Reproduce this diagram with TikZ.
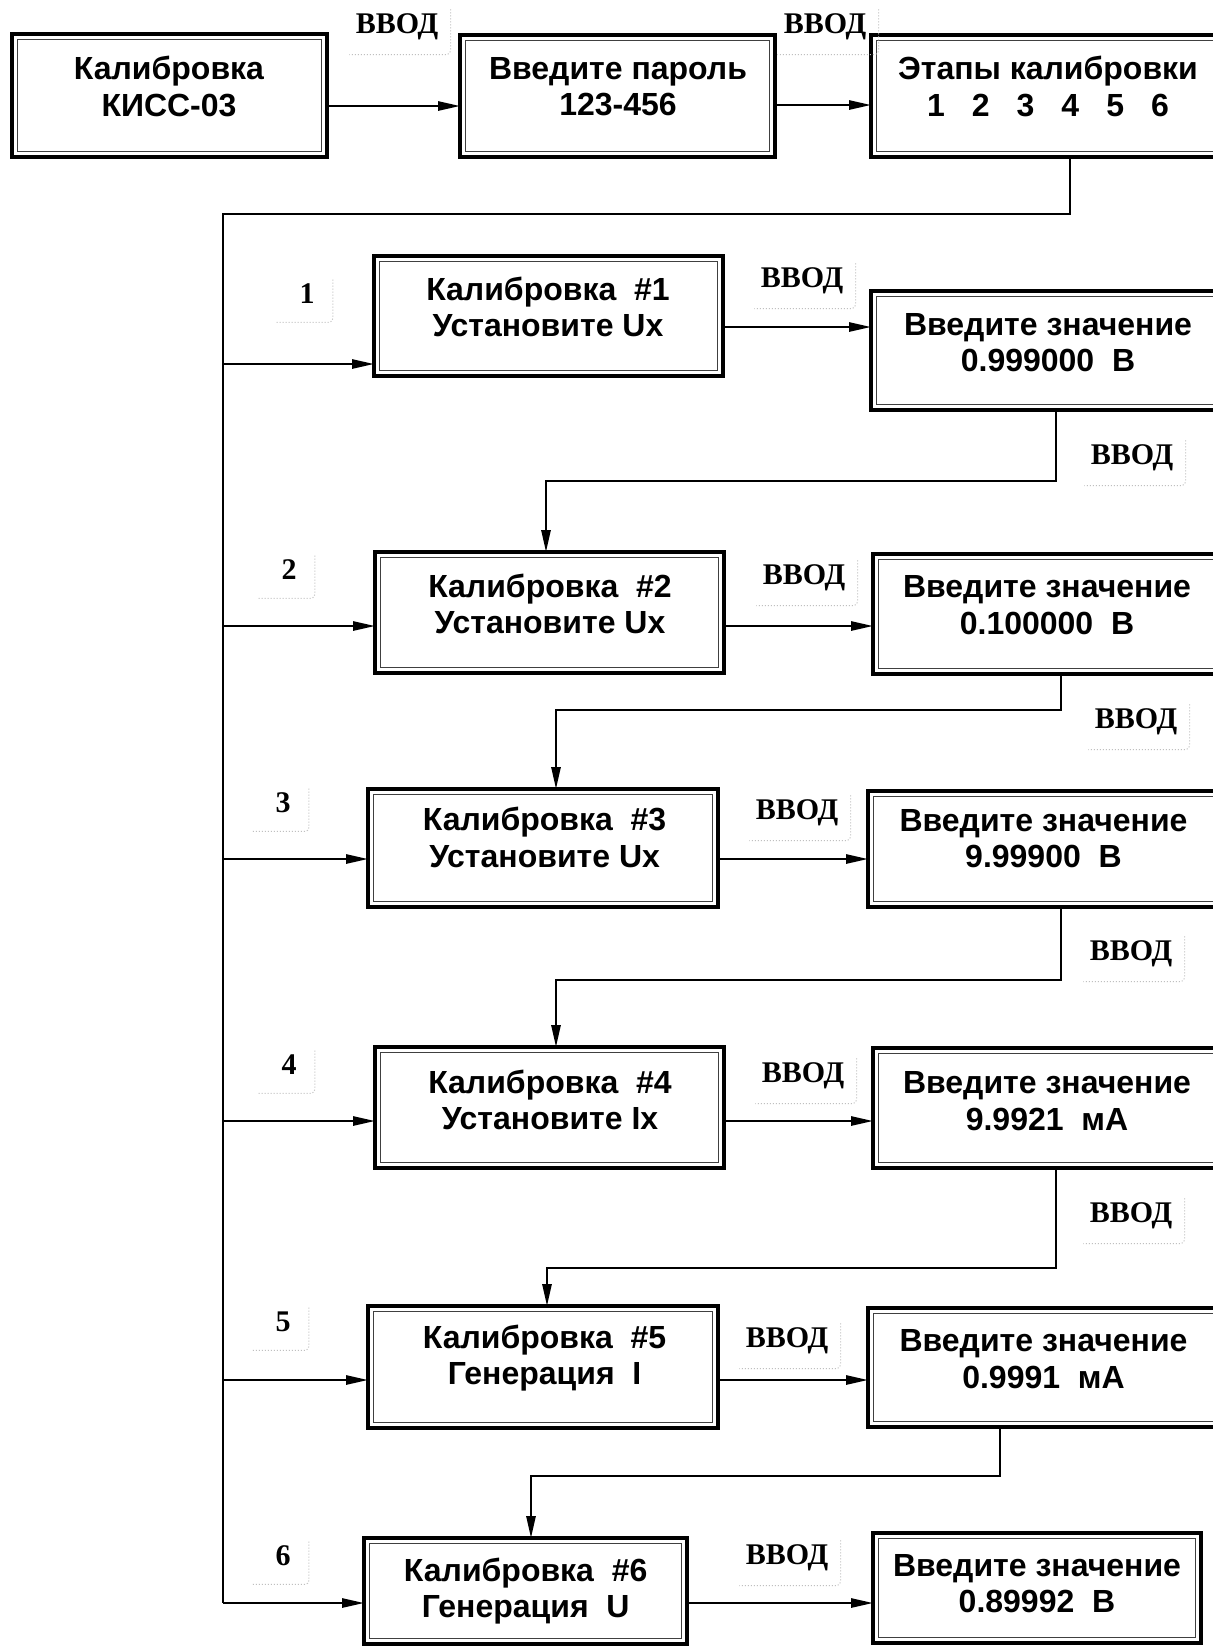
\documentclass[tikz,border=0pt]{standalone}
\usepackage{fontspec}
\setmainfont{Liberation Serif}
\newfontfamily\boxfam{Liberation Sans}
\usetikzlibrary{arrows.meta}
\tikzset{
  box/.style={draw, line width=2.2pt, inner sep=0pt, outer sep=0pt, anchor=north west},
  innerln/.style={line width=0.5pt, black!75},
  txt/.style={font=\boxfam\bfseries\fontsize{16}{18.3}\selectfont, align=center, inner sep=0pt},
  lab/.style={font=\bfseries\fontsize{15}{17}\selectfont, inner sep=0pt},
  mk/.style={line width=0.5pt, gray!50, densely dotted, rounded corners=2pt},
  arr/.style={line width=1.1pt, -{Triangle[length=11pt,width=4.6pt]}},
  ln/.style={line width=1.1pt}
}
\begin{document}
\begin{tikzpicture}[x=0.5pt,y=-0.5pt]
\useasboundingbox (0,0) rectangle (1213,1646);
\fill[white] (0,0) rectangle (1213,1646);

% boxes
\node[box, minimum width=157.5pt, minimum height=61.5pt] (A) at (12,34) {};
\node[box, minimum width=157.5pt, minimum height=61pt] (B) at (460,35) {};
\node[box, minimum width=177pt, minimum height=61pt] (C) at (871,35) {};
\node[box, minimum width=174.5pt, minimum height=60pt] (L1) at (374,256) {};
\node[box, minimum width=177pt, minimum height=59.5pt] (R1) at (871,291) {};
\node[box, minimum width=174.5pt, minimum height=60.5pt] (L2) at (375,552) {};
\node[box, minimum width=177pt, minimum height=60pt] (R2) at (873,554) {};
\node[box, minimum width=175pt, minimum height=59pt] (L3) at (368,789) {};
\node[box, minimum width=177pt, minimum height=58pt] (R3) at (868,791) {};
\node[box, minimum width=174.5pt, minimum height=60.5pt] (L4) at (375,1047) {};
\node[box, minimum width=177pt, minimum height=60pt] (R4) at (873,1048) {};
\node[box, minimum width=175pt, minimum height=61pt] (L5) at (368,1306) {};
\node[box, minimum width=177pt, minimum height=59.5pt] (R5) at (868,1308) {};
\node[box, minimum width=161.5pt, minimum height=53pt] (L6) at (364,1538) {};
\node[box, minimum width=164pt, minimum height=55pt] (R6) at (873,1533) {};

\foreach \n in {A,B,C,L1,R1,L2,R2,L3,R3,L4,R4,L5,R5,L6,R6}
  \draw[innerln] ([shift={(2.8pt,-2.8pt)}]\n.north west) rectangle ([shift={(-2.8pt,2.8pt)}]\n.south east);

% box texts
\node[txt] (A-t) at (169,86.6) {Калибровка\\КИСС-03};
\node[txt] (B-t) at (618,86.6) {Введите пароль\\123-456};
\node[txt] (C-t) at (1048,86.6) {Этапы калибровки\\1\hspace{13.5pt}2\hspace{13.5pt}3\hspace{13.5pt}4\hspace{13.5pt}5\hspace{13.5pt}6};
\node[txt] (L1-t) at (548,306.9) {Калибровка~~\#1\\Установите Ux};
\node[txt] (R1-t) at (1048,342.6) {Введите значение\\0.999000~~В};
\node[txt] (L2-t) at (550,603.8) {Калибровка~~\#2\\Установите Ux};
\node[txt] (R2-t) at (1047,604.9) {Введите значение\\0.100000~~В};
\node[txt] (L3-t) at (544.6,837.6) {Калибровка~~\#3\\Установите Ux};
\node[txt] (R3-t) at (1043.5,838.7) {Введите значение\\9.99900~~В};
\node[txt] (L4-t) at (550,1100.1) {Калибровка~~\#4\\Установите Ix};
\node[txt] (R4-t) at (1047,1101.2) {Введите значение\\9.9921~~мА};
\node[txt] (L5-t) at (544.6,1358.2) {Калибровка~~\#5\\Генерация~~I};
\node[txt] (R5-t) at (1043.5,1359.3) {Введите значение\\0.9991~~мА};
\node[txt] (L6-t) at (525.7,1590.9) {Калибровка~~\#6\\Генерация~~U};
\node[txt] (R6-t) at (1037,1583.6) {Введите значение\\0.89992~~В};

% labels
\node[lab] (t1) at (397,27) {ВВОД};
\node[lab] (t2) at (825,27) {ВВОД};
\node[lab] (v1) at (802,281) {ВВОД};
\node[lab] (v2) at (804,578) {ВВОД};
\node[lab] (v3) at (797,813) {ВВОД};
\node[lab] (v4) at (803,1076) {ВВОД};
\node[lab] (v5) at (787,1341) {ВВОД};
\node[lab] (v6) at (787,1558) {ВВОД};
\node[lab] (w1) at (1132,458) {ВВОД};
\node[lab] (w2) at (1136,722) {ВВОД};
\node[lab] (w3) at (1131,954) {ВВОД};
\node[lab] (w4) at (1131,1216) {ВВОД};
\node[lab] (n1) at (307,294) {1};
\node[lab] (n2) at (289,570) {2};
\node[lab] (n3) at (283,803) {3};
\node[lab] (n4) at (289,1065) {4};
\node[lab] (n5) at (283,1322) {5};
\node[lab] (n6) at (283,1556) {6};
\foreach \n in {t1,t2,v1,v2,v3,v4,v5,v6,w1,w2,w3,w4}
  \draw[mk] ([xshift=6pt,yshift=2pt]\n.north east) |- ([xshift=-3pt,yshift=-7pt]\n.south west);
\foreach \n in {n1,n2,n3,n4,n5,n6}
  \draw[mk] ([xshift=9pt,yshift=2pt]\n.north east) |- ([xshift=-12pt,yshift=-9pt]\n.south west);

% coordinates
\coordinate (ya) at (400,106);
\coordinate (yb) at (800,105);
\coordinate (bt) at (1070,214);
\coordinate (bl) at (223,214);
\coordinate (b1) at (223,364);
\coordinate (b2) at (223,626);
\coordinate (b3) at (223,859);
\coordinate (b4) at (223,1121);
\coordinate (b5) at (223,1380);
\coordinate (b6) at (223,1603);
\coordinate (r1) at (800,327);
\coordinate (k1a) at (1056,481);
\coordinate (k1b) at (546,481);
\coordinate (k2a) at (1061,710);
\coordinate (k2b) at (556,710);
\coordinate (k3a) at (1061,980);
\coordinate (k3b) at (556,980);
\coordinate (k4a) at (1056,1268);
\coordinate (k4b) at (547,1268);
\coordinate (k5a) at (1000,1476);
\coordinate (k5b) at (531,1476);

% top row
\draw[arr] (A.east |- ya) -- (B.west |- ya);
\draw[arr] (B.east |- yb) -- (C.west |- yb);

% bus
\draw[ln] (C.south -| bt) -- (bt) -- (bl) -- (b6);
\draw[arr] (b1) -- (L1.west |- b1);
\draw[arr] (b2) -- (L2.west |- b2);
\draw[arr] (b3) -- (L3.west |- b3);
\draw[arr] (b4) -- (L4.west |- b4);
\draw[arr] (b5) -- (L5.west |- b5);
\draw[arr] (b6) -- (L6.west |- b6);

% left to right
\draw[arr] (L1.east |- r1) -- (R1.west |- r1);
\draw[arr] (L2.east |- b2) -- (R2.west |- b2);
\draw[arr] (L3.east |- b3) -- (R3.west |- b3);
\draw[arr] (L4.east |- b4) -- (R4.west |- b4);
\draw[arr] (L5.east |- b5) -- (R5.west |- b5);
\draw[arr] (L6.east |- b6) -- (R6.west |- b6);

% right to next row
\draw[arr] (R1.south -| k1a) -- (k1a) -- (k1b) -- (L2.north -| k1b);
\draw[arr] (R2.south -| k2a) -- (k2a) -- (k2b) -- (L3.north -| k2b);
\draw[arr] (R3.south -| k3a) -- (k3a) -- (k3b) -- (L4.north -| k3b);
\draw[arr] (R4.south -| k4a) -- (k4a) -- (k4b) -- (L5.north -| k4b);
\draw[arr] (R5.south -| k5a) -- (k5a) -- (k5b) -- (L6.north -| k5b);
\end{tikzpicture}
\end{document}
